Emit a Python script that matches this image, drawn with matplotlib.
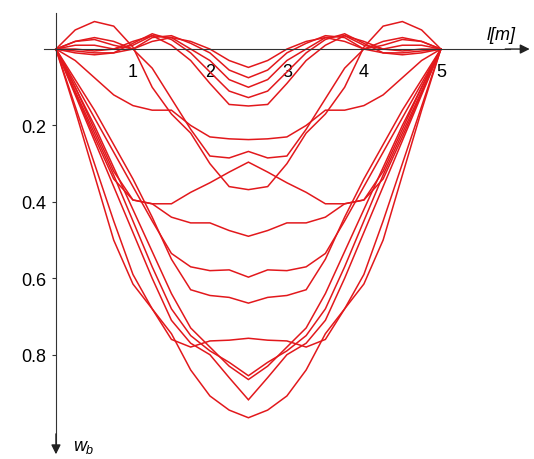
import matplotlib
matplotlib.use('Agg')
import matplotlib.pyplot as plt

plt.rcParams['font.family'] = ['Liberation Sans', 'DejaVu Sans']
plt.rcParams['mathtext.fontset'] = 'custom'
plt.rcParams['mathtext.it'] = 'Liberation Sans:italic'
plt.rcParams['mathtext.rm'] = 'Liberation Sans'

# span positions [m]
x = [0, 0.25, 0.5, 0.75, 1.0, 1.25, 1.5, 1.75, 2.0, 2.25, 2.5,
     2.75, 3.0, 3.25, 3.5, 3.75, 4.0, 4.25, 4.5, 4.75, 5.0]

# deflection lines w_b (positive = downward)
w_d1 = [0, 0.01, 0.015, 0.01, 0.0, -0.02, -0.03, -0.02, 0.0, 0.03, 0.048,
        0.03, 0.0, -0.02, -0.03, -0.02, 0.0, 0.01, 0.015, 0.01, 0]
w_d2 = [0, -0.02, -0.025, -0.01, 0.0, -0.03, -0.035, -0.015, 0.01, 0.055, 0.075,
        0.055, 0.01, -0.015, -0.035, -0.03, 0.0, -0.01, -0.025, -0.02, 0]
w_d3 = [0, -0.01, -0.01, 0.0, -0.01, -0.035, -0.03, 0.0, 0.03, 0.08, 0.10,
        0.08, 0.03, 0.0, -0.03, -0.035, -0.01, 0.0, -0.01, -0.01, 0]
w_d4 = [0, 0.005, 0.01, 0.01, -0.015, -0.04, -0.025, 0.01, 0.06, 0.11, 0.127,
        0.11, 0.06, 0.01, -0.025, -0.04, -0.015, 0.01, 0.01, 0.005, 0]
w_d5 = [0, 0.0, 0.005, 0.0, -0.02, -0.035, -0.01, 0.03, 0.09, 0.145, 0.149,
        0.145, 0.09, 0.03, -0.01, -0.035, -0.02, 0.0, 0.005, 0.0, 0]
w_237 = [0, 0.03, 0.075, 0.12, 0.148, 0.16, 0.16, 0.2, 0.23, 0.235, 0.237,
         0.235, 0.23, 0.2, 0.16, 0.16, 0.148, 0.12, 0.075, 0.03, 0]
w_280 = [0, -0.02, -0.03, -0.02, 0.0, 0.05, 0.13, 0.21, 0.28, 0.285, 0.268,
         0.285, 0.28, 0.21, 0.13, 0.05, 0.0, -0.02, -0.03, -0.02, 0]
w_368 = [0, -0.05, -0.072, -0.06, -0.005, 0.1, 0.17, 0.22, 0.3, 0.36, 0.368,
         0.36, 0.3, 0.22, 0.17, 0.1, -0.005, -0.06, -0.072, -0.05, 0]
w_v = [0, 0.115, 0.23, 0.34, 0.395, 0.405, 0.405, 0.375, 0.35, 0.322, 0.296,
       0.322, 0.35, 0.375, 0.405, 0.405, 0.395, 0.34, 0.23, 0.115, 0]
w_49 = [0, 0.1, 0.21, 0.32, 0.395, 0.405, 0.44, 0.455, 0.455, 0.475, 0.49,
        0.475, 0.455, 0.455, 0.44, 0.405, 0.395, 0.32, 0.21, 0.1, 0]
w_60 = [0, 0.09, 0.18, 0.27, 0.36, 0.45, 0.535, 0.57, 0.58, 0.578, 0.597,
        0.578, 0.58, 0.57, 0.535, 0.45, 0.36, 0.27, 0.18, 0.09, 0]
w_66 = [0, 0.08, 0.16, 0.25, 0.34, 0.44, 0.55, 0.63, 0.645, 0.65, 0.665,
        0.65, 0.645, 0.63, 0.55, 0.44, 0.34, 0.25, 0.16, 0.08, 0]
w_76 = [0, 0.15, 0.3, 0.45, 0.59, 0.68, 0.76, 0.78, 0.764, 0.762, 0.757,
        0.762, 0.764, 0.78, 0.76, 0.68, 0.59, 0.45, 0.3, 0.15, 0]
w_86a = [0, 0.11, 0.22, 0.33, 0.45, 0.57, 0.68, 0.75, 0.79, 0.82, 0.855,
         0.82, 0.79, 0.75, 0.68, 0.57, 0.45, 0.33, 0.22, 0.11, 0]
w_86b = [0, 0.1, 0.2, 0.31, 0.42, 0.53, 0.64, 0.73, 0.78, 0.83, 0.865,
         0.83, 0.78, 0.73, 0.64, 0.53, 0.42, 0.31, 0.2, 0.1, 0]
w_92 = [0, 0.12, 0.24, 0.36, 0.48, 0.6, 0.71, 0.77, 0.8, 0.86, 0.918,
        0.86, 0.8, 0.77, 0.71, 0.6, 0.48, 0.36, 0.24, 0.12, 0]
w_96 = [0, 0.16, 0.33, 0.5, 0.615, 0.68, 0.745, 0.84, 0.908, 0.945, 0.965,
        0.945, 0.908, 0.84, 0.745, 0.68, 0.615, 0.5, 0.33, 0.16, 0]

curves = [w_d1, w_d2, w_d3, w_d4, w_d5, w_237, w_280, w_368, w_v,
          w_49, w_60, w_66, w_76, w_86a, w_86b, w_92, w_96]

x_ticks = [1, 2, 3, 4, 5]
y_ticks = [0.2, 0.4, 0.6, 0.8]

fig = plt.figure(figsize=(5.34, 4.6), dpi=100)
ax = fig.add_axes([0, 0, 1, 1])

for w in curves:
    ax.plot(x, w, color='#e2181c', lw=1.1, solid_joinstyle='miter')

ax.set_xlim(-0.727, 6.21)
ax.set_ylim(1.073, -0.131)

for s in ['top', 'right']:
    ax.spines[s].set_visible(False)
ax.spines['left'].set_position(('data', 0))
ax.spines['bottom'].set_position(('data', 0))
ax.spines['left'].set_bounds(-0.095, 1.04)
ax.spines['bottom'].set_bounds(-0.155, 5.9)
ax.spines['left'].set_color('#333333')
ax.spines['bottom'].set_color('#333333')

ax.set_xticks(x_ticks)
ax.set_xticklabels([str(t) for t in x_ticks])
ax.set_yticks(y_ticks)
ax.set_yticklabels([f'{t:.1f}' for t in y_ticks])
ax.tick_params(axis='x', length=0, pad=10, labelsize=13)
ax.tick_params(axis='y', length=3, pad=4, labelsize=13, color='#333333')

# arrow heads
ax.annotate('', xy=(6.19, 0), xytext=(5.8, 0),
            arrowprops=dict(arrowstyle='-|>', color='#222222', lw=1,
                            mutation_scale=14))
ax.annotate('', xy=(0, 1.068), xytext=(0, 1.0),
            arrowprops=dict(arrowstyle='-|>', color='#222222', lw=1,
                            mutation_scale=14))

ax.text(5.79, -0.037, 'l[m]', fontsize=13, style='italic', ha='center', va='center')
ax.text(0.36, 1.04, r'$w_b$', fontsize=13, ha='center', va='center')

fig.savefig('out.png', dpi=100)
